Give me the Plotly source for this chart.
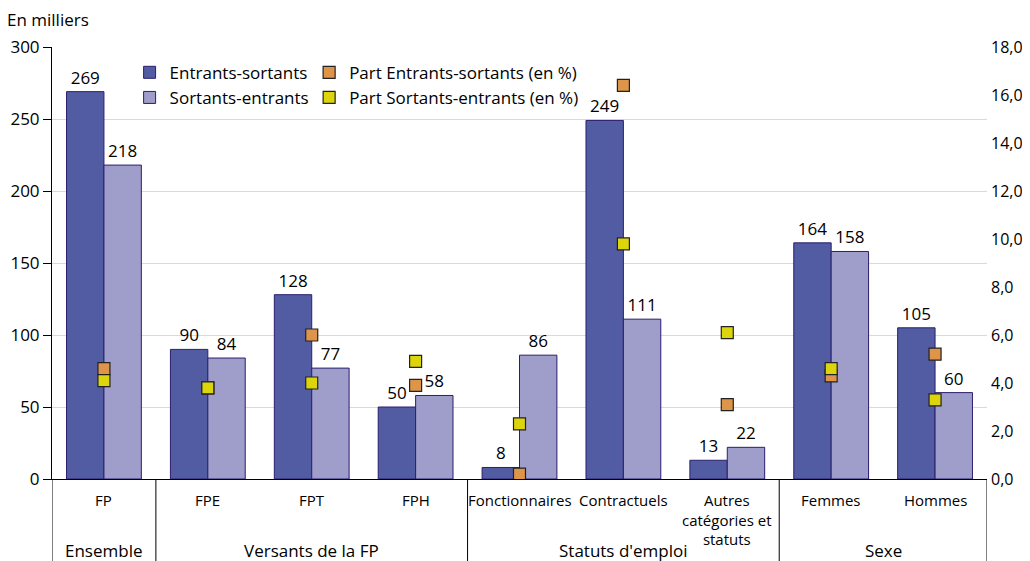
import plotly.graph_objects as go

# data
categories = ["FP", "FPE", "FPT", "FPH", "Fonctionnaires", "Contractuels",
              "Autres<br>catégories et<br>statuts", "Femmes", "Hommes"]
groups = ["Ensemble", "Versants de la FP", "Statuts d'emploi", "Sexe"]
group_sizes = [1, 3, 3, 2]

entrants_sortants = [269, 90, 128, 50, 8, 249, 13, 164, 105]
sortants_entrants = [218, 84, 77, 58, 86, 111, 22, 158, 60]
part_entrants_sortants = [4.6, 3.8, 6.0, 3.9, 0.2, 16.4, 3.1, 4.3, 5.2]
part_sortants_entrants = [4.1, 3.8, 4.0, 4.9, 2.3, 9.8, 6.1, 4.6, 3.3]

FONT = "Open Sans"
OUTLINE = "#2B1E6E"

fig = go.Figure()

# bars (left axis)
fig.add_trace(go.Bar(
    x=categories, y=entrants_sortants, name="Entrants-sortants",
    marker=dict(color="#525CA2", line=dict(color=OUTLINE, width=1)),
    text=entrants_sortants, textposition="outside",
    textfont=dict(size=17, color="black"), cliponaxis=False,
    legend="legend",
))
fig.add_trace(go.Bar(
    x=categories, y=sortants_entrants, name="Sortants-entrants",
    marker=dict(color="#9F9DC9", line=dict(color=OUTLINE, width=1)),
    text=sortants_entrants, textposition="outside",
    textfont=dict(size=17, color="black"), cliponaxis=False,
    legend="legend",
))

# shares (right axis)
fig.add_trace(go.Scatter(
    x=categories, y=part_entrants_sortants, name="Part Entrants-sortants (en %)",
    mode="markers", yaxis="y2",
    marker=dict(symbol="square", size=12, color="#DE9449",
                line=dict(color="#222222", width=1.2)),
    legend="legend2",
))
fig.add_trace(go.Scatter(
    x=categories, y=part_sortants_entrants, name="Part Sortants-entrants (en %)",
    mode="markers", yaxis="y2",
    marker=dict(symbol="square", size=12, color="#DDD50C",
                line=dict(color="#222222", width=1.2)),
    legend="legend2",
))

# category labels under the axis
for cat in categories:
    fig.add_annotation(x=cat, xref="x", y=-0.02, yref="paper",
                       yanchor="top", text=cat, showarrow=False,
                       font=dict(size=15, color="black"))

# group labels and dividers
bounds = [-0.5]
for n in group_sizes:
    bounds.append(bounds[-1] + n)
for i, g in enumerate(groups):
    fig.add_annotation(x=(bounds[i] + bounds[i + 1]) / 2, xref="x",
                       y=-0.165, yref="paper", yanchor="middle",
                       text=g, showarrow=False,
                       font=dict(size=17, color="black"))
for b in bounds:
    fig.add_shape(type="line", xref="x", yref="paper",
                  x0=b, x1=b, y0=0, y1=-0.25,
                  line=dict(color="black", width=1))

fig.add_annotation(x=-0.05, xref="paper", y=1.063, yref="paper",
                   xanchor="left", yanchor="middle", text="En milliers",
                   showarrow=False, font=dict(size=17, color="black"))

# page body has an 8px margin, so the figure is shifted by 8px
fig.update_layout(
    width=1022, height=553,
    margin=dict(l=44, r=43, t=39, b=82, autoexpand=False),
    paper_bgcolor="white", plot_bgcolor="white",
    font=dict(family=FONT, size=17, color="black"),
    separators=", ",
    barmode="group", bargap=0.28, bargroupgap=0,
    xaxis=dict(type="category", showticklabels=False, ticks="",
               showline=True, linecolor="black", linewidth=1,
               showgrid=False, range=[-0.5, 8.5], automargin=False),
    yaxis=dict(range=[0, 300], dtick=50, showline=True, linecolor="black",
               linewidth=1, ticks="outside", ticklen=8, tickcolor="black",
               showgrid=True, gridcolor="#D9D9D9", gridwidth=1,
               zeroline=False, tickfont=dict(size=17), automargin=False),
    yaxis2=dict(range=[0, 18], dtick=2, overlaying="y", side="right",
                tickformat=".1f", showgrid=False, showline=False,
                zeroline=False, ticks="", ticklabelstandoff=3,
                tickfont=dict(size=16), automargin=False),
    legend=dict(x=0.083, y=0.982, xanchor="left", yanchor="top",
                orientation="v", bgcolor="rgba(0,0,0,0)",
                font=dict(size=17), traceorder="normal"),
    legend2=dict(x=0.275, y=0.982, xanchor="left", yanchor="top",
                 orientation="v", bgcolor="rgba(0,0,0,0)",
                 font=dict(size=17), traceorder="normal"),
)

fig.write_html("out.html")
